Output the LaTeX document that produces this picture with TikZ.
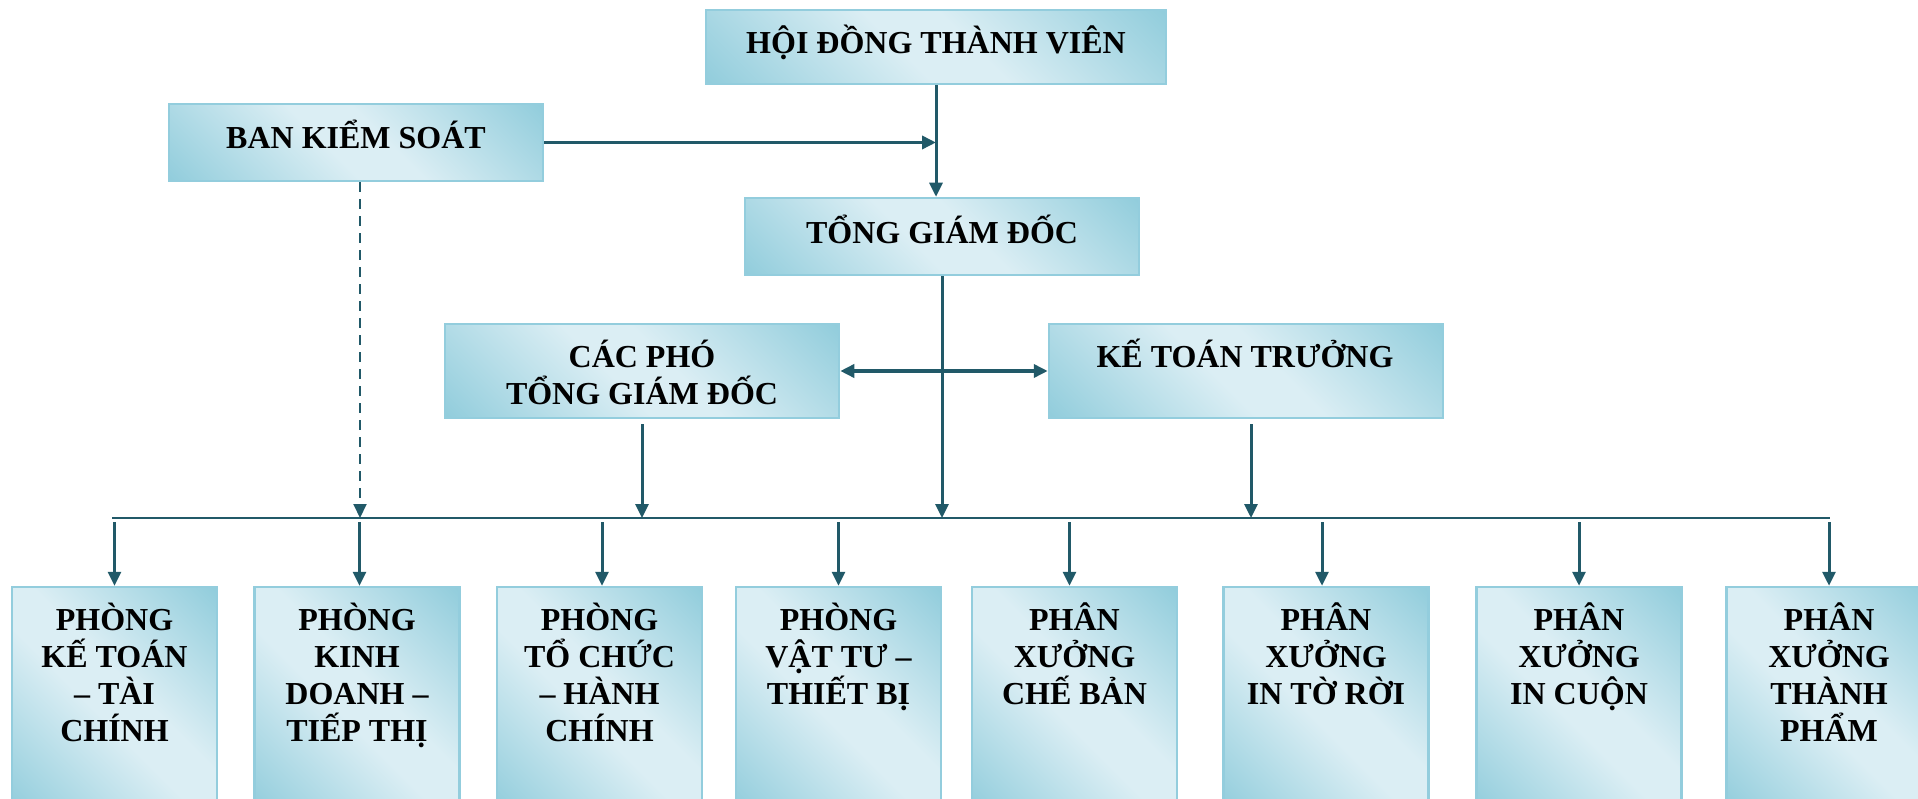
\documentclass[tikz,border=0pt]{standalone}
\usepackage{fontspec}
\setmainfont{Liberation Serif}
\usetikzlibrary{arrows.meta}
\definecolor{dk}{HTML}{92CDDC}
\definecolor{lt}{HTML}{DBEEF4}
\definecolor{bd}{HTML}{93CDDD}
\definecolor{ac}{HTML}{215968}
\pgfdeclarehorizontalshading{boxshade}{100bp}{color(0bp)=(dk); color(15bp)=(dk); color(45bp)=(lt); color(55bp)=(lt); color(85bp)=(dk); color(100bp)=(dk)}
\newcommand\myfls{\rule{0pt}{30pt}}
\begin{document}
\begin{tikzpicture}[x=1pt,y=-1pt,
  box/.style={rectangle, draw=bd, line width=2.5pt, shade, shading=boxshade, shading angle=45, inner sep=0pt},
  topbox/.style={box, minimum height=77pt, minimum width=394pt},
  botbox/.style={box, minimum width=205pt, minimum height=225pt},
  lbl/.style={font=\fontsize{32}{37}\selectfont\bfseries, align=center, inner sep=0pt, anchor=north},
  tip/.style={-{Triangle[length=14pt,width=13pt]}},
  conn/.style={draw=ac, line width=3pt, tip},
  dsh/.style={draw=ac, line width=2pt, dash pattern=on 10pt off 7pt, tip},
  bus/.style={draw=ac, line width=2pt},
  dbl/.style={draw=ac, line width=3.5pt, {Triangle[length=14pt,width=13pt]}-{Triangle[length=14pt,width=13pt]}}
]
\useasboundingbox (0,0) rectangle (1918,799);

% boxes
\node[box, minimum width=460pt, minimum height=74pt] (hd) at (936,47) {};
\node[box, minimum width=374pt, minimum height=77pt] (bks) at (356,142.5) {};
\node[topbox] (tgd) at (942,236.5) {};
\node[box, minimum width=394pt, minimum height=94pt] (cpg) at (642,371) {};
\node[box, minimum width=394pt, minimum height=94pt] (ktt) at (1246,371) {};

\node[botbox] (b1) at (114.5,699.5) {};
\node[botbox] (b2) at (357,699.5) {};
\node[botbox] (b3) at (599.5,699.5) {};
\node[botbox] (b4) at (838.5,699.5) {};
\node[botbox] (b5) at (1074.5,699.5) {};
\node[botbox] (b6) at (1326,699.5) {};
\node[botbox] (b7) at (1579,699.5) {};
\node[botbox] (b8) at (1829,699.5) {};

% labels
\node[lbl] (hdt) at (936,23) {\myfls HỘI ĐỒNG THÀNH VIÊN};
\node[lbl] (bkst) at (356,118) {\myfls BAN KIỂM SOÁT};
\node[lbl] (tgdt) at (942,213) {\myfls TỔNG GIÁM ĐỐC};
\node[lbl] (cpgt) at (642,337) {\myfls CÁC PHÓ\\TỔNG GIÁM ĐỐC};
\node[lbl] (kttt) at (1245,337) {\myfls KẾ TOÁN TRƯỞNG};

\node[lbl] (b1t) at (114.5,600) {\myfls PHÒNG\\KẾ TOÁN\\– TÀI\\CHÍNH};
\node[lbl] (b2t) at (357,600) {\myfls PHÒNG\\KINH\\DOANH –\\TIẾP THỊ};
\node[lbl] (b3t) at (599.5,600) {\myfls PHÒNG\\TỔ CHỨC\\– HÀNH\\CHÍNH};
\node[lbl] (b4t) at (838.5,600) {\myfls PHÒNG\\VẬT TƯ –\\THIẾT BỊ};
\node[lbl] (b5t) at (1074.5,600) {\myfls PHÂN\\XƯỞNG\\CHẾ BẢN};
\node[lbl] (b6t) at (1326,600) {\myfls PHÂN\\XƯỞNG\\IN TỜ RỜI};
\node[lbl] (b7t) at (1579,600) {\myfls PHÂN\\XƯỞNG\\IN CUỘN};
\node[lbl] (b8t) at (1829,600) {\myfls PHÂN\\XƯỞNG\\THÀNH\\PHẨM};

% bus
\coordinate (busL) at (112,518);
\coordinate (busR) at (1830,518);
\draw[bus] (busL) -- (busR);

% connectors
\draw[conn] (hd.south) -- (hd.south |- tgd.north);
\draw[conn, line width=3.5pt] (bks.east) -- (hd.south |- bks.east);
\draw[conn] (tgd.south) -- (tgd.south |- busL);
\draw[dbl] (cpg.east) -- (ktt.west);
\draw[conn] ([yshift=-5pt]cpg.south) -- (cpg.south |- busL);
\draw[conn] ([xshift=5pt,yshift=-5pt]ktt.south) -- ([xshift=5pt]ktt.south |- busL);
\draw[dsh] ([xshift=4pt]bks.south) -- ([xshift=4pt]bks.south |- busL);

\foreach \b/\dx in {b1/0,b2/2.5,b3/2.5,b4/0,b5/-5,b6/-4,b7/0,b8/0}{
  \draw[conn] ([xshift=\dx pt,yshift=-4pt]\b.north |- busL) -- ([xshift=\dx pt]\b.north);
}
\end{tikzpicture}
\end{document}
